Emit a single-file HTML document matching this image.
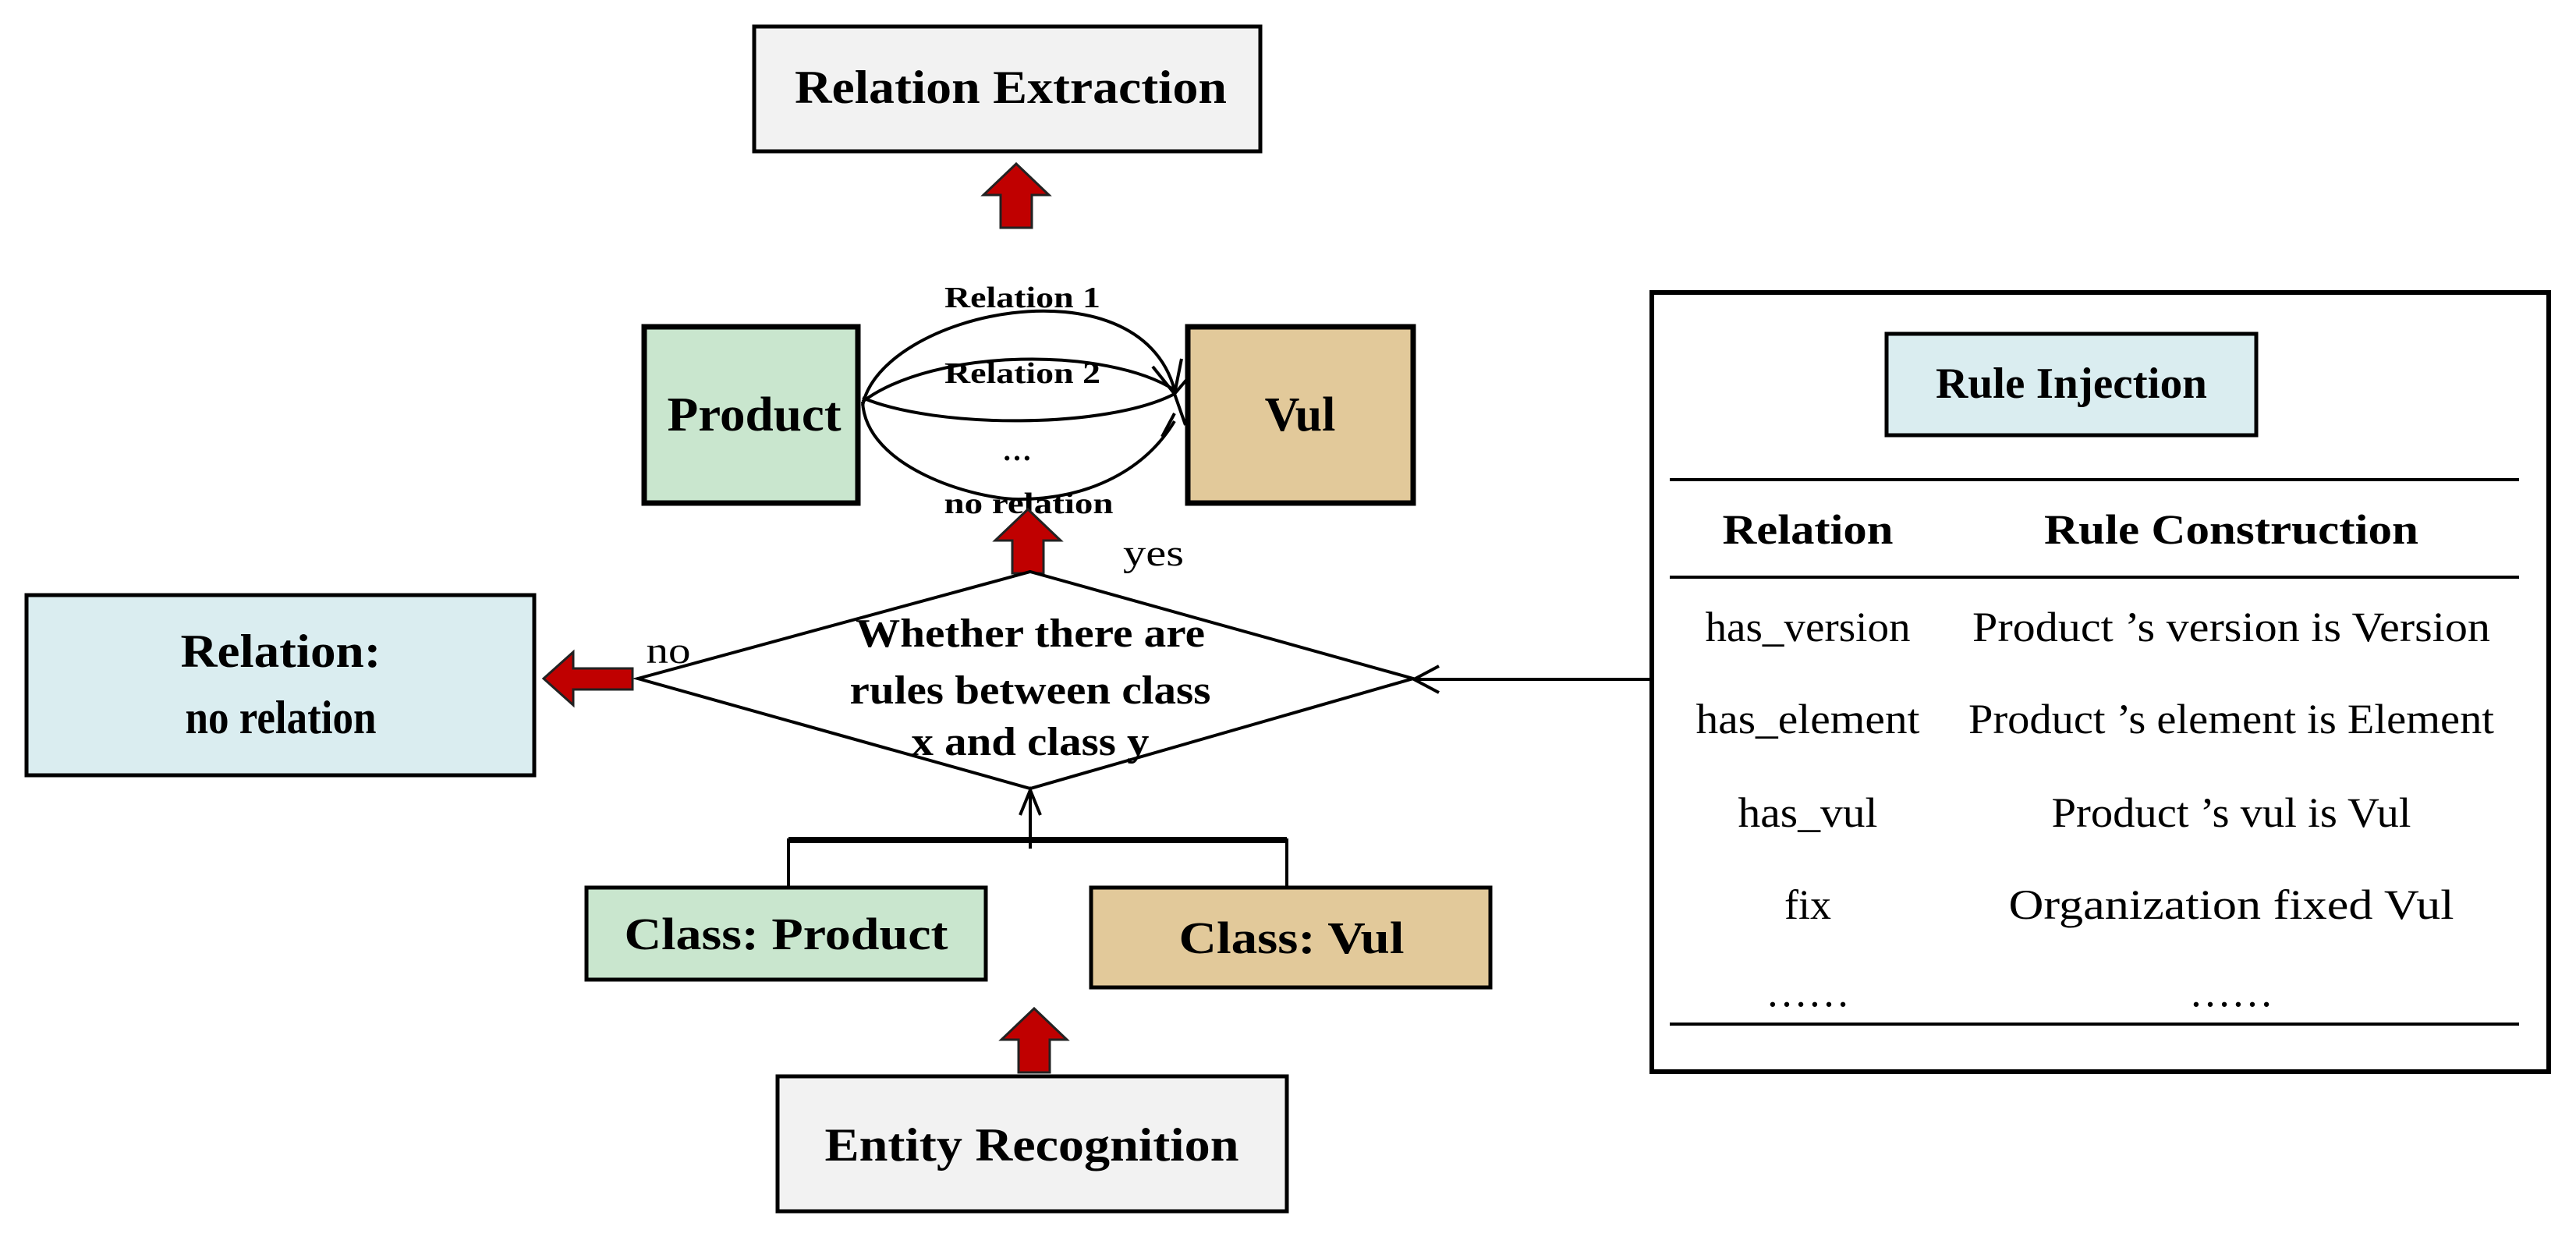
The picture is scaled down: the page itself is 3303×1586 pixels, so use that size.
<!DOCTYPE html>
<html><head><meta charset="utf-8"><style>
html,body{margin:0;padding:0;background:#fff;}
svg{display:block;}
text{font-family:"Liberation Serif",serif;}
.b{font-weight:bold;}
</style></head><body>
<svg width="3303" height="1586" viewBox="0 0 3303 1586" xmlns="http://www.w3.org/2000/svg">
<defs>
<g id="ua"><polygon points="0,-40 -42,0 -20,0 -20,42 20,42 20,0 42,0" fill="#c00000" stroke="#222" stroke-width="3"/></g>
</defs>
<rect x="967" y="34" width="649" height="160" fill="#f2f2f2" stroke="#000" stroke-width="5"/>
<text x="1296" y="132" font-size="60" text-anchor="middle" class="b" textLength="554" lengthAdjust="spacingAndGlyphs">Relation Extraction</text>
<use href="#ua" x="1303" y="250"/>

<rect x="826" y="419" width="274" height="226" fill="#c9e6ce" stroke="#000" stroke-width="7"/>
<text x="967" y="552" font-size="62" text-anchor="middle" class="b" textLength="223" lengthAdjust="spacingAndGlyphs">Product</text>
<rect x="1523" y="419" width="289" height="226" fill="#e2c99a" stroke="#000" stroke-width="7"/>
<text x="1667" y="552" font-size="62" text-anchor="middle" class="b">Vul</text>

<g fill="none" stroke="#000" stroke-width="4">
<path d="M1106,520 C1130,400 1460,330 1506,500"/>
<path d="M1106,515 C1200,445 1420,445 1506,500"/>
<path d="M1106,510 C1200,550 1420,550 1506,505"/>
<path d="M1106,515 C1110,600 1250,640 1306,640 C1400,640 1470,600 1506,540"/>
<path d="M1478,470 L1506,505 L1515,460"/>
<path d="M1520,545 L1506,505 L1523,485"/>
<path d="M1490,560 L1506,530"/>
</g>
<text x="1311" y="394" font-size="38" text-anchor="middle" class="b" textLength="200" lengthAdjust="spacingAndGlyphs">Relation 1</text>
<text x="1311" y="491" font-size="38" text-anchor="middle" class="b" textLength="200" lengthAdjust="spacingAndGlyphs">Relation 2</text>
<text x="1304" y="590" font-size="38" text-anchor="middle" class="b">…</text>
<text x="1319" y="658" font-size="38" text-anchor="middle" class="b" textLength="217" lengthAdjust="spacingAndGlyphs">no relation</text>
<use href="#ua" x="1318" y="693"/>
<text x="1479" y="725" font-size="48" text-anchor="middle" textLength="78" lengthAdjust="spacingAndGlyphs">yes</text>

<polygon points="1321,733 1812,870 1321,1011 818,870" fill="#fff" stroke="#000" stroke-width="4"/>
<text x="1321" y="829" font-size="52" text-anchor="middle" class="b" textLength="448" lengthAdjust="spacingAndGlyphs">Whether there are</text>
<text x="1321" y="902" font-size="52" text-anchor="middle" class="b" textLength="463" lengthAdjust="spacingAndGlyphs">rules between class</text>
<text x="1321" y="968" font-size="52" text-anchor="middle" class="b" textLength="305" lengthAdjust="spacingAndGlyphs">x and class y</text>
<text x="857" y="850" font-size="48" text-anchor="middle" textLength="57" lengthAdjust="spacingAndGlyphs">no</text>
<polygon points="697,870 735,836 735,857 811,857 811,884 735,884 735,904" fill="#c00000" stroke="#222" stroke-width="3"/>

<rect x="34" y="763" width="651" height="231" fill="#daedf0" stroke="#000" stroke-width="5"/>
<text x="360" y="855" font-size="60" text-anchor="middle" class="b" textLength="257" lengthAdjust="spacingAndGlyphs">Relation:</text>
<text x="360" y="940" font-size="60" text-anchor="middle" class="b" textLength="245" lengthAdjust="spacingAndGlyphs">no relation</text>

<g fill="none" stroke="#000" stroke-width="4">
<line x1="1813" y1="871" x2="2115" y2="871"/>
<path d="M1845,854 L1813,871 L1845,888"/>
<line x1="1321" y1="1013" x2="1321" y2="1088"/>
<path d="M1308,1045 L1321,1013 L1334,1045"/>
<path d="M1011,1138 L1011,1077 L1650,1077 L1650,1138"/>
</g>
<line x1="1011" y1="1077" x2="1650" y2="1077" stroke="#000" stroke-width="8"/>

<rect x="752" y="1138" width="512" height="118" fill="#c9e6ce" stroke="#000" stroke-width="5"/>
<text x="1008" y="1217" font-size="58" text-anchor="middle" class="b" textLength="415" lengthAdjust="spacingAndGlyphs">Class: Product</text>
<rect x="1399" y="1138" width="512" height="128" fill="#e2c99a" stroke="#000" stroke-width="5"/>
<text x="1656" y="1222" font-size="58" text-anchor="middle" class="b" textLength="289" lengthAdjust="spacingAndGlyphs">Class: Vul</text>

<use href="#ua" x="1326" y="1333"/>
<rect x="997" y="1380" width="653" height="173" fill="#f2f2f2" stroke="#000" stroke-width="5"/>
<text x="1323" y="1488" font-size="60" text-anchor="middle" class="b" textLength="531" lengthAdjust="spacingAndGlyphs">Entity Recognition</text>

<rect x="2118" y="375" width="1150" height="999" fill="#fff" stroke="#000" stroke-width="6"/>
<rect x="2419" y="428" width="474" height="130" fill="#daedf0" stroke="#000" stroke-width="5"/>
<text x="2656" y="510" font-size="56" text-anchor="middle" class="b" textLength="348" lengthAdjust="spacingAndGlyphs">Rule Injection</text>
<g stroke="#000" stroke-width="4">
<line x1="2141" y1="615" x2="3230" y2="615"/>
<line x1="2141" y1="740" x2="3230" y2="740"/>
<line x1="2141" y1="1313" x2="3230" y2="1313"/>
</g>
<g font-size="54" text-anchor="middle">
<text x="2318" y="697" class="b" textLength="219" lengthAdjust="spacingAndGlyphs">Relation</text>
<text x="2861" y="697" class="b" textLength="480" lengthAdjust="spacingAndGlyphs">Rule Construction</text>
<text x="2318" y="822" textLength="263" lengthAdjust="spacingAndGlyphs">has_version</text>
<text x="2861" y="822" textLength="664" lengthAdjust="spacingAndGlyphs">Product ’s version is  Version</text>
<text x="2318" y="940" textLength="287" lengthAdjust="spacingAndGlyphs">has_element</text>
<text x="2861" y="940" textLength="674" lengthAdjust="spacingAndGlyphs">Product ’s element is  Element</text>
<text x="2318" y="1060" textLength="179" lengthAdjust="spacingAndGlyphs">has_vul</text>
<text x="2861" y="1060" textLength="461" lengthAdjust="spacingAndGlyphs">Product ’s vul is Vul</text>
<text x="2318" y="1178">fix</text>
<text x="2861" y="1178" textLength="571" lengthAdjust="spacingAndGlyphs">Organization fixed Vul</text>
<text x="2318" y="1290">……</text>
<text x="2861" y="1290">……</text>
</g>
</svg>
</body></html>
